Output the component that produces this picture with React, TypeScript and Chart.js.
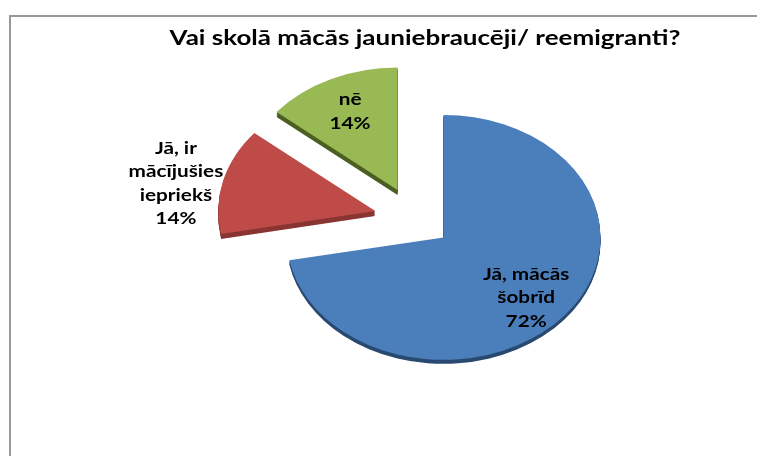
import { useEffect, useRef } from "react";
import { Chart, PieController, ArcElement } from "chart.js";

Chart.register(PieController, ArcElement);

// ---- data ----
const TITLE = "Vai skolā mācās jauniebraucēji/ reemigranti?";
const CATEGORIES = ["Jā, mācās šobrīd", "Jā, ir mācījušies iepriekš", "nē"];
const VALUES = [72, 14, 14];
const LABEL_LINES = [["Jā, mācās", "šobrīd"], ["Jā, ir", "mācījušies", "iepriekš"], ["nē"]];

// ---- styles ----
const COLORS = ["#4B7FBC", "#BE4B48", "#98B954"];
const SIDE_COLORS = ["#2A4A70", "#8A3533", "#4C5F22"];
const SIDE_DEPTH = [4, 5, 5];
const EXPLODE = [37, 41, 41];
const LABEL_RADIUS = [0.72, 1.29, 0.71];
const LABEL_ANGLE_SHIFT = [0.06, -0.075, 0];
const TILT = 0.78;
const FONT = "Lato, 'Open Sans', sans-serif";
const LABEL_STRETCH = 1.22;
const TITLE_STRETCH = 1.3;

function stretchedText(ctx: CanvasRenderingContext2D, t: string, x: number, y: number, sx: number) {
  ctx.save();
  ctx.translate(x, y);
  ctx.scale(sx, 1);
  ctx.fillText(t, 0, 0);
  ctx.restore();
}

const pie3d = {
  id: "pie3d",
  beforeDatasetsDraw(chart: any) {
    const meta = chart.getDatasetMeta(0);
    const ctx = chart.ctx as CanvasRenderingContext2D;
    const arcs = meta.data as any[];
    if (!arcs.length) return;
    const cx = arcs[0].x;
    const cy = arcs[0].y;
    const drawArc = (arc: any, i: number, depth: number, side: boolean) => {
      const mid = (arc.startAngle + arc.endAngle) / 2;
      ctx.save();
      ctx.translate(0, depth);
      ctx.translate(cx, cy);
      ctx.scale(1, TILT);
      ctx.translate(-cx, -cy);
      ctx.translate(Math.cos(mid) * EXPLODE[i], Math.sin(mid) * EXPLODE[i]);
      const orig = arc.options;
      if (side) {
        arc.options = Object.assign({}, orig, { backgroundColor: SIDE_COLORS[i], borderWidth: 0 });
      }
      arc.draw(ctx);
      arc.options = orig;
      ctx.restore();
    };
    arcs.forEach((arc, i) => {
      for (let d = SIDE_DEPTH[i]; d >= 1; d--) drawArc(arc, i, d, true);
    });
    arcs.forEach((arc, i) => drawArc(arc, i, 0, false));
    return false;
  },
  afterDraw(chart: any) {
    const ctx = chart.ctx as CanvasRenderingContext2D;
    const meta = chart.getDatasetMeta(0);
    const arcs = meta.data as any[];
    const total = VALUES.reduce((a, b) => a + b, 0);
    ctx.save();
    ctx.fillStyle = "#000";
    ctx.textAlign = "center";
    ctx.textBaseline = "middle";
    ctx.font = `bold 17px ${FONT}`;
    arcs.forEach((arc, i) => {
      const mid = (arc.startAngle + arc.endAngle) / 2;
      const ex = arc.x + Math.cos(mid) * EXPLODE[i];
      const ey = arc.y + Math.sin(mid) * EXPLODE[i] * TILT;
      const a = mid + LABEL_ANGLE_SHIFT[i];
      const r = arc.outerRadius * LABEL_RADIUS[i];
      const px = ex + Math.cos(a) * r;
      const py = ey + Math.sin(a) * r * TILT;
      const lines = [...LABEL_LINES[i], Math.round((VALUES[i] / total) * 100) + "%"];
      const lh = 23.5;
      lines.forEach((t, j) => {
        stretchedText(ctx, t, px, py + (j - (lines.length - 1) / 2) * lh, LABEL_STRETCH);
      });
    });
    ctx.font = `bold 20px ${FONT}`;
    ctx.textBaseline = "alphabetic";
    stretchedText(ctx, TITLE, 425, 45, TITLE_STRETCH);
    ctx.restore();
  },
};

export default function App() {
  const ref = useRef<HTMLCanvasElement>(null);
  useEffect(() => {
    if (!ref.current) return;
    const chart = new Chart(ref.current, {
      type: "pie",
      data: {
        labels: CATEGORIES,
        datasets: [
          {
            data: VALUES,
            backgroundColor: COLORS,
            borderWidth: 0,
          },
        ],
      },
      options: {
        animation: false,
        responsive: false,
        radius: 157,
        layout: { padding: { left: 73, right: 0, top: 0, bottom: 18 } },
        plugins: { legend: { display: false }, tooltip: { enabled: false } },
        events: [],
      } as any,
      plugins: [pie3d],
    });
    return () => chart.destroy();
  }, []);
  return (
    <div style={{ position: "fixed", left: 0, top: 0, width: 757, height: 456, background: "#fff" }}>
      <div
        style={{
          position: "absolute",
          left: 9,
          top: 15,
          right: 0,
          bottom: 0,
          borderLeft: "2px solid #999",
          borderTop: "2px solid #999",
        }}
      />
      <canvas ref={ref} width={757} height={456} style={{ position: "absolute", left: 0, top: 0 }} />
    </div>
  );
}
